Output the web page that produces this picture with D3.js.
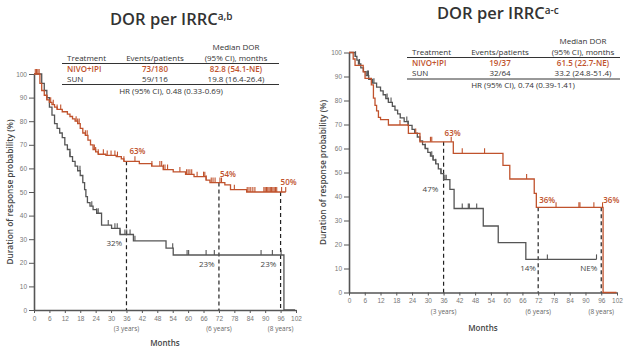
<!DOCTYPE html>
<html>
<head>
<meta charset="utf-8">
<script src="https://cdn.jsdelivr.net/npm/d3@7"></script>
<style>
  body { margin: 0; background: #fff; }
  svg { font-family: "Open Sans", sans-serif; }
</style>
</head>
<body>
<svg id="chart" width="633" height="353"></svg>
<script>
// ---- data ----
const monthTicks = [0, 6, 12, 18, 24, 30, 36, 42, 48, 54, 60, 66, 72, 78, 84, 90, 96, 102];
const pctTicks = [0, 10, 20, 30, 40, 50, 60, 70, 80, 90, 100];
const yearMarks = [36, 72, 96];
const yearLabels = ['(3 years)', '(6 years)', '(8 years)'];

// left panel (IRRC, all responders)
const leftNivoTimes = [0, 2.3, 3, 4, 5, 6, 7, 8, 9, 11, 13, 14, 15, 16, 17, 18, 19, 20, 21, 22, 23, 24, 25, 28, 32, 34, 35, 41, 45.8, 50.3, 54.2, 59, 62.3, 67, 68.5, 74.3, 76.5, 82.8, 98];
const leftNivoValues = [100, 96, 93, 91, 89, 88, 87, 86, 85, 84, 83, 82, 81, 80, 79, 77, 75, 74, 72, 70, 68, 67, 66, 65.5, 65, 64, 63, 62, 61, 59.5, 58.5, 57.5, 56.5, 55, 54, 53, 51, 50, 50];
const leftNivoCensor = [0.5, 1, 1.5, 2, 5, 6.5, 7.5, 9, 10.4, 16.4, 17, 17.6, 20, 20.7, 23.5, 24, 25, 27, 28.5, 30, 31.5, 32.5, 35, 39.3, 45.9, 49, 49.7, 50.4, 51, 52, 56.8, 59.4, 60, 60.7, 61.4, 63.5, 66, 66.5, 67, 69, 69.7, 70.5, 72.4, 73, 78, 83, 83.7, 84.4, 85.2, 86, 89.5, 90, 90.5, 91, 91.5, 92, 92.5, 93, 93.5, 94, 94.5, 96.4, 98];
const leftSunTimes = [0, 3, 4, 5, 6, 7, 8, 9, 10, 11, 12, 13, 14, 15, 16, 17, 18, 19, 19.7, 20.2, 20.8, 21.8, 23, 24.4, 26.3, 30.2, 33.5, 38.7, 51.4, 54.2, 97.3, 101.6];
const leftSunValues = [100, 96, 93, 90, 86, 82.6, 79, 77, 75, 73, 70, 68, 65, 63, 61, 59, 57, 54, 51, 48, 45.5, 44, 42.5, 41, 36, 34.6, 32, 29.3, 26.2, 23.3, 0, 0];
const leftSunCensor = [14, 17.9, 22.5, 24.4, 25, 28.9, 31.5, 32.4, 33.5, 35.4, 36.1, 37.4, 39.3, 54, 59.6, 60.2, 67, 70.2, 88.4, 92.8, 96.2];

// right panel (IRRC, second population)
const rightNivoTimes = [0, 1.6, 2.3, 5.4, 6.1, 8.5, 9.3, 9.9, 10.5, 11.2, 12, 15, 22.6, 27, 39.7, 58.6, 61.2, 70.5, 71.3, 96.7, 101.8];
const rightNivoValues = [100, 97.3, 94.6, 91.9, 89.2, 86.5, 81, 78, 75.7, 73, 72, 69.8, 66.3, 62.8, 58, 53, 47.3, 41.3, 35.5, 0, 0];
const rightNivoCensor = [19.4, 25.4, 31, 31.5, 38.9, 43.1, 51.6, 67.6, 78.8, 87.5, 87.9, 93.2, 96.5];
const rightSunTimes = [0, 2.3, 3, 3.6, 4.5, 5.5, 6.5, 7.5, 9, 10.5, 12, 13, 14, 15, 16.5, 17.5, 18.5, 19.5, 21, 22.5, 24, 25, 26, 27, 28, 29, 30, 31, 32, 33, 34, 35, 36, 38.4, 40, 51.1, 56.8, 67.3, 94.2];
const rightSunValues = [100, 98.4, 96.8, 95.2, 93.6, 92, 90.4, 88.8, 87.2, 85.6, 84, 82.4, 80.8, 79.2, 77.6, 76, 74.4, 72.8, 71.2, 69.6, 68, 66.4, 64.8, 63.2, 61.6, 60, 58.4, 56.8, 55.2, 53.6, 51.5, 49.5, 47, 43, 35, 27.7, 20.8, 13.8, 13.8];
const rightSunCensor = [2.5, 4, 7, 7.4, 9.5, 14.5, 15, 16, 22, 22.5, 29, 31.5, 32, 33, 35, 36.5, 37, 43.1, 45.4, 45.8, 48.6, 75.5, 94.2];

// tables
const treatments = ['NIVO+IPI', 'SUN'];
const leftEvents = ['73/180', '59/116'];
const leftMedians = ['82.8 (54.1-NE)', '19.8 (16.4-26.4)'];
const leftHR = 'HR (95% CI), 0.48 (0.33-0.69)';
const rightEvents = ['19/37', '32/64'];
const rightMedians = ['61.5 (22.7-NE)', '33.2 (24.8-51.4)'];
const rightHR = 'HR (95% CI), 0.74 (0.39-1.41)';

const leftCallouts = [
  { t: 36, text: '63%', series: 'nivo', dx: 3, dy: -7 },
  { t: 72, text: '54%', series: 'nivo', dx: 1, dy: -6 },
  { t: 96, text: '50%', series: 'nivo', dx: 0, dy: -7 },
  { t: 36, text: '32%', series: 'sun', dx: -20, dy: 12 },
  { t: 72, text: '23%', series: 'sun', dx: -20, dy: 12 },
  { t: 96, text: '23%', series: 'sun', dx: -20, dy: 12 }
];
const rightCallouts = [
  { t: 36, text: '63%', series: 'nivo', dx: 1, dy: -6 },
  { t: 36, text: '47%', series: 'sun', dx: -21, dy: 12 },
  { t: 72, text: '36%', series: 'nivo', dx: 1, dy: -4 },
  { t: 96, text: '36%', series: 'nivo', dx: 2, dy: -4 },
  { t: 72, text: '14%', series: 'sun', dx: -18, dy: 12 },
  { t: 96, text: 'NE%', series: 'sun', dx: -21, dy: 12 }
];

// ---- drawing ----
const orange = '#c0522c';
const grey = '#555';
const svg = d3.select('#chart');

const stepAt = (times, values, t) => {
  let v = values[0];
  times.forEach((tt, i) => { if (tt <= t) v = values[i]; });
  return v;
};

const drawPanel = p => {
  const x = d3.scaleLinear().domain([0, 102]).range(p.xRange);
  const y = d3.scaleLinear().domain([0, 100]).range(p.yRange);
  const g = svg.append('g');

  // title
  const title = g.append('text')
    .attr('x', p.titleX).attr('y', p.titleY)
    .attr('font-size', 16.5).attr('font-weight', 600).attr('fill', '#333');
  title.append('tspan').text('DOR per IRRC');
  title.append('tspan').attr('font-size', 10).attr('dy', -5).text(p.sup);

  // table
  const tb = p.table;
  const tg = g.append('g').attr('font-size', 8).attr('fill', '#333');
  tg.append('text').attr('x', tb.c3).attr('y', tb.y0 - 11).attr('text-anchor', 'middle').text('Median DOR');
  tg.append('text').attr('x', tb.c1).attr('y', tb.y0).text('Treatment');
  tg.append('text').attr('x', tb.c2).attr('y', tb.y0).attr('text-anchor', 'middle').text('Events/patients');
  tg.append('text').attr('x', tb.c3).attr('y', tb.y0).attr('text-anchor', 'middle').text('(95% CI), months');
  tg.append('line').attr('x1', tb.x1).attr('x2', tb.x2).attr('y1', tb.y0 + 2.5).attr('y2', tb.y0 + 2.5)
    .attr('stroke', '#333').attr('stroke-width', 1);
  treatments.forEach((tr, i) => {
    const yy = tb.y0 + 10.5 + i * tb.row;
    const col = i === 0 ? orange : '#333';
    const fw = i === 0 ? 600 : 400;
    tg.append('text').attr('x', tb.c1).attr('y', yy).attr('fill', col).attr('font-weight', fw).text(tr);
    tg.append('text').attr('x', tb.c2).attr('y', yy).attr('text-anchor', 'middle').attr('fill', col).attr('font-weight', fw).text(p.events[i]);
    tg.append('text').attr('x', tb.c3).attr('y', yy).attr('text-anchor', 'middle').attr('fill', col).attr('font-weight', fw).text(p.medians[i]);
  });
  const yLine2 = tb.y0 + 10.5 + tb.row + 3;
  tg.append('line').attr('x1', tb.x1).attr('x2', tb.x2).attr('y1', yLine2).attr('y2', yLine2)
    .attr('stroke', '#333').attr('stroke-width', 1);
  tg.append('text').attr('x', tb.hrX).attr('y', yLine2 + 9).attr('text-anchor', 'middle').text(p.hr);

  // axes
  const xAxis = d3.axisBottom(x).tickValues(monthTicks).tickSize(3).tickSizeOuter(0).tickPadding(3);
  const xg = g.append('g').attr('transform', `translate(0,${p.yRange[0]})`).call(xAxis);
  const yAxis = d3.axisLeft(y).tickValues(pctTicks).tickSize(5).tickSizeOuter(0).tickPadding(2);
  const yg = g.append('g').attr('transform', `translate(${p.xRange[0]},0)`).call(yAxis);
  [xg, yg].forEach(a => {
    a.select('.domain').attr('stroke', '#555').attr('stroke-width', 1.6);
    a.selectAll('.tick line').attr('stroke', '#555');
    a.selectAll('.tick text').attr('fill', '#777').attr('font-size', 6.5);
  });

  g.append('text')
    .attr('transform', `translate(${p.yLabelX},${(p.yRange[0] + p.yRange[1]) / 2}) rotate(-90)`)
    .attr('text-anchor', 'middle').attr('font-size', 8.3).attr('font-weight', 600).attr('fill', '#444')
    .text('Duration of response probability (%)');
  g.append('text').attr('x', (p.xRange[0] + p.xRange[1]) / 2).attr('y', p.yRange[0] + p.monthsDy)
    .attr('text-anchor', 'middle').attr('font-size', 8).attr('font-weight', 600).attr('fill', '#444')
    .text('Months');
  yearMarks.forEach((m, i) => {
    g.append('text').attr('x', x(m)).attr('y', p.yRange[0] + 21)
      .attr('text-anchor', 'middle').attr('font-size', 6.5).attr('fill', '#666').text(yearLabels[i]);
  });

  // dashed landmarks
  yearMarks.forEach(m => {
    g.append('line').attr('x1', x(m)).attr('x2', x(m))
      .attr('y1', y(stepAt(p.nivoTimes, p.nivoValues, m))).attr('y2', y(0))
      .attr('stroke', '#222').attr('stroke-width', 1.2).attr('stroke-dasharray', '4,3');
  });

  // curves
  const line = d3.line().x(d => x(d[0])).y(d => y(d[1])).curve(d3.curveStepAfter);
  const series = [
    { times: p.sunTimes, values: p.sunValues, censor: p.sunCensor, color: grey },
    { times: p.nivoTimes, values: p.nivoValues, censor: p.nivoCensor, color: orange }
  ];
  series.forEach(s => {
    g.append('path').datum(s.times.map((t, i) => [t, s.values[i]]))
      .attr('fill', 'none').attr('stroke', s.color).attr('stroke-width', 1.3).attr('d', line);
    g.selectAll(null).data(s.censor).join('line')
      .attr('x1', d => x(d)).attr('x2', d => x(d))
      .attr('y1', d => y(stepAt(s.times, s.values, d)))
      .attr('y2', d => y(stepAt(s.times, s.values, d)) - 5)
      .attr('stroke', s.color).attr('stroke-width', 1.1);
  });

  // callouts
  p.callouts.forEach(c => {
    const nivo = c.series === 'nivo';
    const v = nivo ? stepAt(p.nivoTimes, p.nivoValues, c.t) : stepAt(p.sunTimes, p.sunValues, c.t);
    g.append('text').attr('x', x(c.t) + c.dx).attr('y', y(v) + c.dy)
      .attr('font-size', 8).attr('font-weight', nivo ? 600 : 400)
      .attr('fill', nivo ? orange : '#444').text(c.text);
  });
};

drawPanel({
  xRange: [34, 296], yRange: [310, 74],
  titleX: 110, titleY: 25, sup: 'a,b',
  table: { y0: 61, row: 10, c1: 67, c2: 155, c3: 236, x1: 62, x2: 279, hrX: 171 },
  events: leftEvents, medians: leftMedians, hr: leftHR,
  yLabelX: 13, monthsDy: 36,
  nivoTimes: leftNivoTimes, nivoValues: leftNivoValues, nivoCensor: leftNivoCensor,
  sunTimes: leftSunTimes, sunValues: leftSunValues, sunCensor: leftSunCensor,
  callouts: leftCallouts
});

drawPanel({
  xRange: [349, 617], yRange: [292.5, 52.5],
  titleX: 437, titleY: 19, sup: 'a-c',
  table: { y0: 55, row: 10.5, c1: 412, c2: 500, c3: 583, x1: 407, x2: 620, hrX: 523 },
  events: rightEvents, medians: rightMedians, hr: rightHR,
  yLabelX: 326, monthsDy: 38,
  nivoTimes: rightNivoTimes, nivoValues: rightNivoValues, nivoCensor: rightNivoCensor,
  sunTimes: rightSunTimes, sunValues: rightSunValues, sunCensor: rightSunCensor,
  callouts: rightCallouts
});
</script>
</body>
</html>
